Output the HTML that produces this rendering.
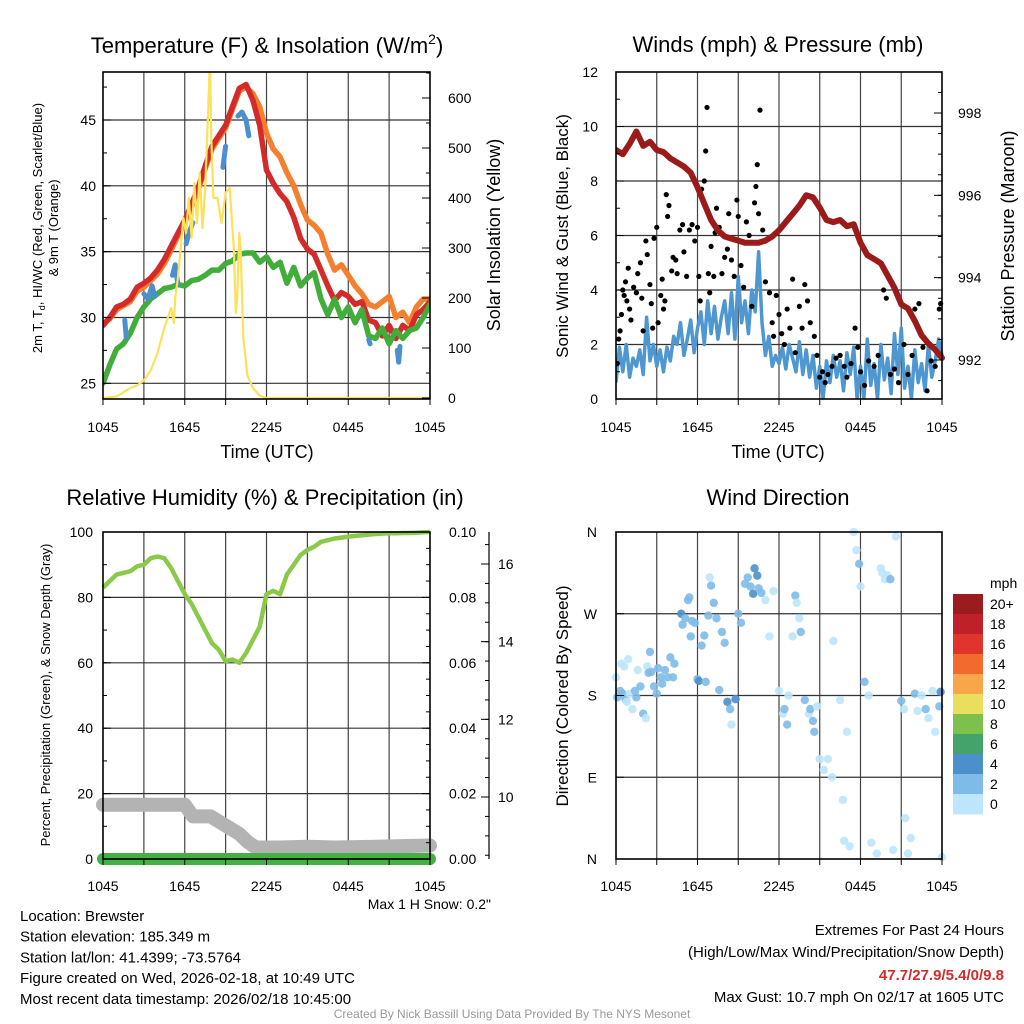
<!DOCTYPE html>
<html><head><meta charset="utf-8"><style>
html,body{margin:0;padding:0;background:#fff;}
svg{display:block;font-family:"Liberation Sans",Arial,sans-serif;}
</style></head><body>
<svg id="chart" width="1024" height="1024" viewBox="0 0 1024 1024" xmlns="http://www.w3.org/2000/svg">
<rect width="1024" height="1024" fill="#fff"/>
</svg>
<script>
// ---------- DATA ----------
const xTickLabels = ["1045","1645","2245","0445","1045"];
const xTickHours = [0,6,12,18,24];
const halfHours = [0,0.5,1,1.5,2,2.5,3,3.5,4,4.5,5,5.5,6,6.5,7,7.5,8,8.5,9,9.5,10,10.5,11,11.5,12,12.5,13,13.5,14,14.5,15,15.5,16,16.5,17,17.5,18,18.5,19,19.5,20,20.5,21,21.5,22,22.5,23,23.5,24];
const temp2m = [29.4,30.0,30.8,31.0,31.4,32.3,32.6,33.0,33.6,34.4,35.4,36.4,37.4,38.6,39.9,41.5,43.0,43.8,44.6,46.0,47.4,47.7,46.5,44.6,41.2,40.2,39.4,38.8,37.6,36.0,35.2,34.8,33.6,32.4,31.3,31.9,31.6,31.0,31.2,29.8,29.6,28.6,29.4,28.4,29.4,29.0,30.2,30.6,31.2];
const temp9m = [29.5,29.9,30.6,30.9,31.2,32.0,32.3,32.8,33.3,34.1,35.1,36.2,37.2,38.4,39.7,41.3,42.8,43.6,44.4,45.8,47.2,47.5,47.0,46.0,44.0,42.8,42.2,41.0,40.0,38.6,37.4,37.0,36.4,34.8,33.6,34.0,33.2,32.4,31.8,31.0,30.8,31.2,31.6,30.0,30.4,29.6,30.8,31.4,31.4];
const dewpoint = [25.0,26.4,27.6,28.0,28.8,30.0,30.8,31.4,31.8,32.2,32.3,32.5,32.4,32.8,32.9,33.2,33.6,33.6,34.1,34.3,34.8,34.9,34.9,34.2,34.6,33.8,34.2,32.6,33.8,32.4,33.0,33.4,31.4,30.2,31.4,30.0,30.8,29.6,30.6,28.6,28.4,29.2,28.0,29.0,28.4,29.0,29.2,30.0,31.0];
const hiwcHours = [1.6,1.7,null,3.0,3.3,3.6,3.8,null,5.1,5.3,5.5,null,6.1,6.3,6.6,null,8.8,9.0,null,9.9,10.2,10.5,10.7,null,19.5,19.6,null,21.6,21.7,21.8];
const hiwcValues = [29.8,28.5,null,31.8,31.4,32.4,31.6,null,33.2,34.0,32.5,null,35.6,36.4,37.2,null,41.4,43.0,null,45.3,45.6,45.0,43.8,null,28.3,28.0,null,27.5,26.6,27.8];
const solarHours = [0,1,2,2.5,3,3.5,4,4.5,5,5.2,5.3,5.5,5.7,5.9,6.1,6.3,6.5,6.7,6.9,7.1,7.3,7.5,7.7,7.85,7.95,8.1,8.4,8.7,9.0,9.3,9.6,9.75,9.85,10.0,10.1,10.3,10.6,11,11.5,12,24];
const solarValues = [0,3,20,25,35,55,90,140,180,150,200,240,300,360,330,400,320,430,350,450,340,420,560,680,520,400,400,350,410,420,300,170,200,330,300,120,45,20,5,0,0];
const pressure = [997.1,997.0,997.25,997.55,997.2,997.3,997.1,997.05,996.9,996.8,996.7,996.55,996.2,995.8,995.4,995.15,995.0,994.95,994.9,994.85,994.85,994.85,994.9,995.0,995.15,995.35,995.55,995.75,996.0,995.95,995.7,995.4,995.35,995.4,995.25,995.3,994.85,994.55,994.45,994.35,994.05,993.75,993.35,993.25,992.95,992.6,992.4,992.25,992.05];
const sonicWind = [0.6,1.9,1.0,2.0,0.8,1.5,1.2,1.8,0.9,3.0,1.4,2.0,1.2,1.8,1.0,1.9,
 1.4,2.3,2.0,2.8,1.6,2.2,2.9,1.7, 2.6,3.2,2.0,3.6,2.4,3.4,2.2,3.0, 3.6,2.4,3.9,2.2,4.5,2.8,3.6,2.4,
 4.0,3.2,5.4,2.8,1.6,2.3,1.2,1.6, 1.3,1.9,1.1,2.0,1.5,1.0,2.1,0.9, 1.8,0.8,1.6,0.4,1.2,0.0,1.4,0.6,
 1.6,0.8,1.4,0.3,1.7,0.9,1.9,0.0, 1.2,0.0,2.2,0.5,1.3,0.0,2.0,0.7, 1.5,0.2,2.4,0.9,2.6,0.4,1.2,0.0,
 1.8,0.6,1.3,0.3,2.0,0.8,1.4,2.2,1.6];
const gustHours = [0.1,0.2,0.3,0.4,0.5,0.6,0.7,0.8,0.9,1.0,1.1,1.3,1.5,1.6,1.8,1.9,2.0,2.2,2.3,2.5,2.6,2.7,2.8,3.0,3.1,3.3,3.4,3.5,3.6,3.7,3.8,3.9,4.1,4.2,4.4,4.5,4.7,4.9,5.0,5.2,5.4,5.6,5.8,6.0,6.1,6.2,6.3,6.5,6.6,6.7,6.8,6.9,7.0,7.2,7.3,7.4,7.6,7.8,8.0,8.2,8.3,8.5,8.7,8.9,9.0,9.2,9.4,9.6,9.8,10.0,10.2,10.3,10.4,10.5,10.6,10.8,11.0,11.3,11.5,11.6,11.8,12.0,12.2,12.4,12.6,12.8,13.0,13.2,13.5,13.7,13.9,14.1,14.3,14.6,14.8,15.0,15.2,15.4,15.6,15.9,16.2,16.5,16.8,17.0,17.3,17.6,17.8,18.0,18.3,18.6,19.0,19.3,19.7,19.9,20.2,20.5,20.8,21.2,21.5,21.8,22.0,22.3,22.6,22.9,23.2,23.5,23.8,23.9];
const gustValues = [1.3,2.2,2.5,3.1,4.0,3.8,4.3,3.6,4.8,3.3,2.9,4.1,3.9,4.6,5.0,3.7,2.5,5.8,5.3,4.2,3.5,2.6,5.9,6.3,2.8,3.8,4.4,3.3,3.6,7.5,6.7,7.1,4.7,5.2,5.1,4.6,6.2,6.4,5.4,4.5,6.2,6.4,5.8,6.3,4.5,3.6,7.7,8.0,9.1,10.7,4.6,3.9,5.6,4.5,6.1,7.0,6.3,4.6,5.2,5.5,6.8,5.1,4.5,7.3,6.7,4.9,4.1,6.5,6.0,3.4,7.2,7.8,8.6,6.8,10.6,6.2,4.3,3.9,2.8,2.3,3.8,3.1,2.4,2.0,3.3,2.6,4.4,1.7,3.4,2.6,4.2,3.6,2.8,2.3,1.6,0.8,1.0,0.6,0.9,1.2,1.5,1.6,1.2,0.8,1.3,2.6,1.9,1.0,0.5,1.4,1.2,1.6,4.0,3.7,0.9,1.1,0.6,2.0,0.9,1.6,3.3,3.5,1.9,0.3,1.4,1.2,3.3,3.5];
const rh = [83,85,87,87.5,88,89.5,90,92,92.5,92,89,85,81,78,74,70,66,64,60.5,61,60,63,67,71,81,82,81,87,90,93,94.5,95.5,97,97.5,98,98.3,98.6,98.8,99,99.2,99.4,99.5,99.6,99.6,99.7,99.7,99.8,99.9,100];
const precip = [0,0,0,0,0,0,0,0,0,0,0,0,0,0,0,0,0,0,0,0,0,0,0,0,0,0,0,0,0,0,0,0,0,0,0,0,0,0,0,0,0,0,0,0,0,0,0,0,0];
const snowHours = [0,6.0,6.6,7.9,8.6,9.3,10.0,10.6,11.2,13,15,17,20,24];
const snowDepth = [9.8,9.8,9.5,9.5,9.35,9.2,9.05,8.85,8.7,8.7,8.72,8.7,8.72,8.75];
const dirHours = [0.0,0.1,0.3,0.4,0.5,0.6,0.7,0.8,0.9,1.0,1.2,1.4,1.5,1.6,1.8,2.0,2.2,2.3,2.4,2.5,2.6,2.8,3.0,3.1,3.3,3.4,3.6,3.8,4.0,4.2,4.3,4.8,4.9,5.1,5.3,5.4,5.5,5.6,5.8,6.0,6.1,6.3,6.5,6.6,6.8,6.9,7.0,7.2,7.4,7.6,7.8,8.0,8.2,8.4,8.5,8.8,9.0,9.2,9.5,9.7,9.9,10.1,10.2,10.4,10.5,10.7,11.0,11.3,11.6,12.0,12.3,12.4,12.6,12.7,13.0,13.2,13.3,13.5,13.6,13.9,14.2,14.3,14.5,14.6,14.8,15.0,15.3,15.6,15.9,16.0,16.5,16.7,16.8,17.0,17.2,17.5,17.7,17.9,18.0,18.3,18.6,18.8,19.2,19.5,19.6,19.8,20.0,20.2,20.4,20.6,21.0,21.2,21.3,21.5,21.7,22.0,22.2,22.5,22.8,23.0,23.3,23.5,23.8,23.9,24.0];
const dirDegrees = [200,178,185,215,182,212,176,173,220,182,165,185,178,208,190,160,155,212,205,228,206,190,182,210,200,193,208,200,222,200,215,270,258,265,285,288,245,262,260,198,196,235,246,195,268,310,301,282,265,186,250,238,173,165,148,176,270,260,303,310,300,292,320,312,298,293,285,245,295,185,160,165,148,180,245,290,282,265,250,175,160,165,152,140,168,110,98,110,90,240,175,65,20,140,14,360,340,325,300,195,180,18,6,320,315,308,312,308,10,355,174,165,45,6,23,182,163,180,165,155,185,140,168,184,2];
const dirSpeeds = [1,3,3,1,3,1,3,1,1,1,1,3,3,1,3,3,1,1,3,3,3,3,3,3,3,3,3,3,3,3,3,4.5,3,3,3,3,3,3,3,3,4.5,3,3,3,3,1,3,3,3,3,3,3,4.5,3,1,4.5,3,3,3,3,3,4.5,4.5,4.5,3,3,1,1,1,1,1,3,3,1,1,3,1,1,3,3,1,3,3,3,1,1,1,1,1,1,1,1,1,1,1,1,1,3,1,3,1,1,1,1,1,1,1,3,1,1,3,1,1,1,1,3,1,1,3,1,1,1,3,4.5,1];
const cbarLabels = ["20+","18","16","14","12","10","8","6","4","2","0"];
const cbarColors = ["#9b1b1e","#c0202a","#e0352b","#f26a2e","#f9a64a","#e8e05c","#7cc14c","#43a36a","#4b8fcb","#7fbbe8","#bde6fa"];

// ---------- HELPERS ----------
const svg = document.getElementById('chart');
const NS = 'http://www.w3.org/2000/svg';
function mk(tag, attrs, parent){ const e=document.createElementNS(NS,tag); for(const k in attrs) e.setAttribute(k,attrs[k]); (parent||svg).appendChild(e); return e; }
function lin(d0,d1,r0,r1){ return v => r0+(v-d0)/(d1-d0)*(r1-r0); }
function pathD(xs, ys, fx, fy){ let d='', pen=false; for(let i=0;i<xs.length;i++){ if(xs[i]===null||ys[i]===null){pen=false;continue;} d+=(pen?'L':'M')+fx(xs[i]).toFixed(1)+','+fy(ys[i]).toFixed(1); pen=true;} return d; }
function txt(x,y,s,size,anchor,extra){ const t=mk('text',Object.assign({x:x,y:y,'font-size':size,'text-anchor':anchor||'middle',fill:'#000'},extra||{})); t.textContent=s; return t; }

function frame(x0,x1,y0,y1,name){
  const g=mk('g',{});
  
  
  for(let h=3;h<24;h+=3){ const x=lin(0,24,x0,x1)(h); mk('line',{x1:x,x2:x,y1:y0,y2:y1,stroke:'#444','stroke-width':1.2},g); }
  return g;
}
function hgrid(g,x0,x1,ys){ ys.forEach(y=>mk('line',{x1:x0,x2:x1,y1:y,y2:y,stroke:'#333','stroke-width':1.2},g)); }
function box(x0,x1,y0,y1){ const r=mk('rect',{x:x0,y:y0,width:x1-x0,height:y1-y0,fill:'none',stroke:'#000','stroke-width':1.6});   }
function xticks(x0,x1,y1,ly){
  const fx=lin(0,24,x0,x1);
  for(let h=0;h<=24;h+=3) mk('line',{x1:fx(h),x2:fx(h),y1:y1,y2:y1+6,stroke:'#000','stroke-width':1});
  xTickHours.forEach((h,i)=>{ const t=txt(fx(h),ly,xTickLabels[i],14);   });
}
function yticks(x, fy, majors, minors, dir, labelFmt, lx, anchor, name){
  minors.forEach(v=>mk('line',{x1:x,x2:x+dir*4,y1:fy(v),y2:fy(v),stroke:'#000','stroke-width':1}));
  majors.forEach(v=>{ mk('line',{x1:x,x2:x+dir*8,y1:fy(v),y2:fy(v),stroke:'#000','stroke-width':1});
    const t=txt(lx,fy(v)+5,labelFmt(v),14,anchor);   });
}
function range(a,b,s){ const r=[]; for(let v=a; v<=b+1e-9; v+=s) r.push(+v.toFixed(4)); return r; }

// ---------- PANEL 1: Temperature ----------
(function(){
  const x0=103,x1=430,y0=72,y1=399;
  const fx=lin(0,24,x0,x1), fy=lin(25,45,383.3,120), fs=lin(0,600,398,98);
  const g=frame(x0,x1,y0,y1,'temperature-grid');
  hgrid(g,x0,x1,[25,30,35,40,45].map(fy));
  const clip=mk('clipPath',{id:'c1'}); mk('rect',{x:x0,y:y0,width:x1-x0,height:y1-y0},clip);
  const pg=mk('g',{'clip-path':'url(#c1)'});
  let p;
  p=mk('path',{d:pathD(halfHours,temp9m,fx,fy),fill:'none',stroke:'#f47f2e','stroke-width':5.5,'stroke-linejoin':'round','stroke-linecap':'round'},pg);
   
  p=mk('path',{d:pathD(halfHours,temp2m,fx,fy),fill:'none',stroke:'#d42a2a','stroke-width':5.5,'stroke-linejoin':'round','stroke-linecap':'round'},pg);
   
  p=mk('path',{d:pathD(halfHours,dewpoint,fx,fy),fill:'none',stroke:'#43ad3c','stroke-width':5.5,'stroke-linejoin':'round','stroke-linecap':'round'},pg);
   
  p=mk('path',{d:pathD(hiwcHours,hiwcValues,fx,fy),fill:'none',stroke:'#4a90cf','stroke-width':5,'stroke-linejoin':'round','stroke-linecap':'round'},pg);
   
  p=mk('path',{d:pathD(solarHours,solarValues,fx,fs),fill:'none',stroke:'#fbe15c','stroke-width':2.2,'stroke-linejoin':'round'},pg);
   
  box(x0,x1,y0,y1);
  yticks(x0,fy,[25,30,35,40,45],range(25,47.5,2.5),1,v=>String(v),96,'end','y-tick-label-temp');
  yticks(x1,fs,[0,100,200,300,400,500,600],range(0,650,50),-1,v=>String(v),448,'start','y-tick-label-solar');
  xticks(x0,x1,y1,432);
  let t=mk('text',{x:267,y:53,'font-size':22,'text-anchor':'middle'});  
  t.innerHTML='Temperature (F) &amp; Insolation (W/m<tspan font-size="14" dy="-9">2</tspan><tspan dy="9">)</tspan>';
  t=txt(267,458,'Time (UTC)',18);  
  t=mk('text',{x:0,y:0,'font-size':13,'text-anchor':'middle',transform:'translate(42,228) rotate(-90)'});  
  t.innerHTML='2m T, T<tspan font-size="9" dy="3">d</tspan><tspan dy="-3">, HI/WC (Red, Green, Scarlet/Blue)</tspan>';
  t=mk('text',{x:0,y:0,'font-size':13,'text-anchor':'middle',transform:'translate(58,228) rotate(-90)'}); t.textContent='& 9m T (Orange)';  
  t=mk('text',{x:0,y:0,'font-size':18,'text-anchor':'middle',transform:'translate(500,235) rotate(-90)'}); t.textContent='Solar Insolation (Yellow)';  
})();

// ---------- PANEL 2: Winds & Pressure ----------
(function(){
  const x0=616,x1=942,y0=72,y1=399;
  const fx=lin(0,24,x0,x1), fy=lin(0,12,399,72), fp=lin(992,998,360,113);
  const g=frame(x0,x1,y0,y1,'winds-grid');
  hgrid(g,x0,x1,[2,4,6,8,10].map(fy));
  const clip=mk('clipPath',{id:'c2'}); mk('rect',{x:x0,y:y0-6,width:x1-x0+6,height:y1-y0+6},clip);
  const pg=mk('g',{'clip-path':'url(#c2)'});
  const windHours=sonicWind.map((v,i)=>i*0.25);
  let p=mk('path',{d:pathD(windHours,sonicWind,fx,fy),fill:'none',stroke:'#4e97d1','stroke-width':3.5,'stroke-linejoin':'round'},pg);
   
  gustHours.forEach((h,i)=>{ const c=mk('circle',{cx:fx(h),cy:fy(gustValues[i]),r:2.6,fill:'#000'},pg);
      });
  p=mk('path',{d:pathD(halfHours,pressure,fx,fp),fill:'none',stroke:'#9b1b1b','stroke-width':6,'stroke-linejoin':'round','stroke-linecap':'round'},pg);
   
  box(x0,x1,y0,y1);
  yticks(x0,fy,[0,2,4,6,8,10,12],range(0,12,1),1,v=>String(v),598,'end','y-tick-label-wind');
  yticks(x1,fp,[992,994,996,998],range(991.5,998.5,0.5),-1,v=>String(v),958,'start','y-tick-label-pressure');
  xticks(x0,x1,y1,432);
  let t=txt(778,52,'Winds (mph) & Pressure (mb)',22);  
  t=txt(778,458,'Time (UTC)',18);  
  t=mk('text',{x:0,y:0,'font-size':17,'text-anchor':'middle',transform:'translate(568,236) rotate(-90)'}); t.textContent='Sonic Wind & Gust (Blue, Black)';  
  t=mk('text',{x:0,y:0,'font-size':18,'text-anchor':'middle',transform:'translate(1014,236) rotate(-90)'}); t.textContent='Station Pressure (Maroon)';  
})();

// ---------- PANEL 3: RH & Precip ----------
(function(){
  const x0=103,x1=430,y0=532,y1=859;
  const fx=lin(0,24,x0,x1), fy=lin(0,100,859,532), fpr=lin(0,0.1,859,532), fs=lin(10,16,797,564);
  const g=frame(x0,x1,y0,y1,'humidity-grid');
  hgrid(g,x0,x1,[20,40,60,80].map(fy));
  let p=mk('path',{d:pathD(snowHours,snowDepth,fx,fs),fill:'none',stroke:'#b3b3b3','stroke-width':14,'stroke-linejoin':'round','stroke-linecap':'round'});
   
  p=mk('path',{d:pathD(halfHours,precip,fx,fpr),fill:'none',stroke:'#45b045','stroke-width':12,'stroke-linecap':'round'});
   
  p=mk('path',{d:pathD(halfHours,rh,fx,fy),fill:'none',stroke:'#8cc94a','stroke-width':4.5,'stroke-linejoin':'round'});
   
  box(x0,x1,y0,y1);
  yticks(x0,fy,[0,20,40,60,80,100],range(0,100,10),1,v=>String(v),93,'end','y-tick-label-percent');
  yticks(x1,fpr,[0,0.02,0.04,0.06,0.08,0.1],range(0,0.1,0.005),-1,v=>v.toFixed(2),449,'start','y-tick-label-precip');
  const ax=mk('line',{x1:489,x2:489,y1:532,y2:859,stroke:'#000','stroke-width':1.2});  
  yticks(489,fs,[10,12,14,16],range(8.5,16.5,0.5),-1,v=>String(v),498,'start','y-tick-label-snow');
  xticks(x0,x1,y1,891);
  let t=txt(265,505,'Relative Humidity (%) & Precipitation (in)',22);  
  t=mk('text',{x:0,y:0,'font-size':13,'text-anchor':'middle',transform:'translate(50,695) rotate(-90)'}); t.textContent='Percent, Precipitation (Green), & Snow Depth (Gray)';  
  t=txt(491,909,'Max 1 H Snow: 0.2"',14,'end');  
})();

// ---------- PANEL 4: Wind direction ----------
(function(){
  const x0=616,x1=942,y0=532,y1=859;
  const fx=lin(0,24,x0,x1), fy=lin(0,360,859,532);
  const g=frame(x0,x1,y0,y1,'direction-grid');
  hgrid(g,x0,x1,[90,180,270].map(fy));
  function col(s){ const bin=Math.min(10,Math.floor(s/2)); return cbarColors[10-bin]; }
  const pg=mk('g',{'fill-opacity':0.9});
  dirHours.forEach((h,i)=>{ const c=mk('circle',{cx:fx(h),cy:fy(dirDegrees[i]),r:4.2,fill:col(dirSpeeds[i])},pg);
      });
  box(x0,x1,y0,y1);
  const dl=['N','E','S','W','N'];
  yticks(x0,fy,[0,90,180,270,360],[],1,v=>dl[v/90],597,'end','y-tick-label-direction');
  xticks(x0,x1,y1,891);
  let t=txt(778,505,'Wind Direction',22);  
  t=mk('text',{x:0,y:0,'font-size':17,'text-anchor':'middle',transform:'translate(568,696) rotate(-90)'}); t.textContent='Direction (Colored By Speed)';  
  const cg=mk('g',{});  
  cbarColors.forEach((c,i)=>{ const r=mk('rect',{x:953,y:594+i*20,width:30,height:20.5,fill:c},cg);
     
    const tl=txt(990,604+i*20+5,cbarLabels[i],14,'start',{}); cg.appendChild(tl); });
  t=txt(990,588,'mph',14,'start');  
})();

// ---------- FOOTER TEXT ----------
(function(){
  const left=["Location: Brewster","Station elevation: 185.349 m","Station lat/lon: 41.4399; -73.5764","Figure created on Wed, 2026-02-18, at 10:49 UTC","Most recent data timestamp: 2026/02/18 10:45:00"];
  left.forEach((s,i)=>{ const t=txt(20,921+i*20.7,s,15,'start');   });
  let t=txt(1004,935,'Extremes For Past 24 Hours',15,'end');  
  t=txt(1004,957,'(High/Low/Max Wind/Precipitation/Snow Depth)',15,'end');  
  t=txt(1004,980,'47.7/27.9/5.4/0/9.8',15,'end',{fill:'#d42a2a','font-weight':'bold'});  
  t=txt(1004,1002,'Max Gust: 10.7 mph On 02/17 at 1605 UTC',15,'end');  
  t=txt(512,1018,'Created By Nick Bassill Using Data Provided By The NYS Mesonet',12,'middle',{fill:'#999'});  
})();
</script>
</body></html>
